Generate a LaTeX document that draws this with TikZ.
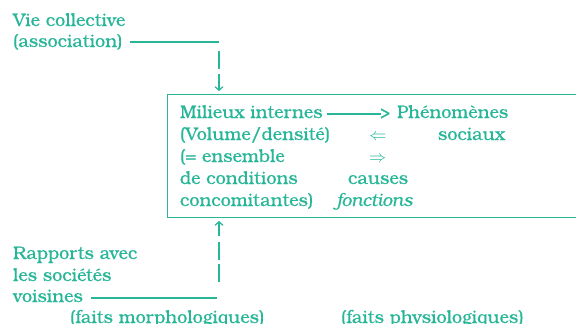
\documentclass[tikz,border=0pt]{standalone}
\usepackage{fontspec}
\setmainfont{TeX Gyre Bonum}[FakeBold=0.5]
\usetikzlibrary{arrows.meta}
\definecolor{teal1}{RGB}{40,182,152}
\tikzset{
  txt/.style={anchor=base west,inner sep=0pt,outer sep=0pt,text=teal1,font=\fontsize{18}{22}\selectfont},
  ln/.style={draw=teal1,line width=1.3pt},
  arr/.style={draw=teal1,line width=1.3pt,-{Straight Barb[length=3.5pt,width=8pt,line width=1.2pt]}}
}
\begin{document}
\begin{tikzpicture}[x=1pt,y=-1pt]
\useasboundingbox (0,0) rectangle (576,324);
\clip (0,0) rectangle (576,324);
% top left text
\node[txt] (vie) at (13,26) {Vie collective};
\node[txt] (assoc) at (13,47) {(association)};
\coordinate (a0) at (130,42);
\coordinate (a1) at (219,42);
\coordinate (a2) at (219,51);
\coordinate (a3) at (219,69);
\coordinate (a4) at (219,74);
\coordinate (a5) at (219,91);
\draw[ln] (a0) -- (a1);
\draw[ln] (a2) -- (a3);
\draw[arr] (a4) -- (a5);
% box
\node[draw=teal1,line width=1.3pt,inner sep=0pt,minimum width=430pt,minimum height=123pt,anchor=north west] (box) at (167,93.5) {};
% inside text
\node[txt] (mi) at (180,118) {Milieux internes};
\node[txt] (gt) at (380,118) {>};
\node[txt] (ph) at (397,118) {Phénomènes};
\coordinate (r0) at (327,114);
\coordinate (r1) at (381,114);
\draw[ln,line width=1.2pt] (r0) -- (r1);
\node[txt] (vol) at (180,140) {(Volume/densité)};
\node[txt] (la) at (369,140) {$\Leftarrow$};
\node[txt] (soc) at (438,140) {sociaux};
\node[txt] (ens) at (180,162) {(= ensemble};
\node[txt] (ra) at (369,162) {$\Rightarrow$};
\node[txt] (cond) at (180,184) {de conditions};
\node[txt] (cau) at (348,184) {causes};
\node[txt] (conc) at (180,206) {concomitantes)};
\node[txt,font=\fontsize{18}{22}\selectfont\itshape] (fon) at (336,206) {fonctions};
% bottom
\coordinate (b0) at (91,298);
\coordinate (b1) at (217,298);
\coordinate (b2) at (219,282);
\coordinate (b3) at (219,264);
\coordinate (b4) at (219,260);
\coordinate (b5) at (219,242);
\coordinate (b6) at (219,236);
\coordinate (b7) at (219,221);
\draw[ln] (b0) -- (b1);
\draw[ln] (b2) -- (b3);
\draw[ln] (b4) -- (b5);
\draw[arr] (b6) -- (b7);
\node[txt] (rap) at (13,259) {Rapports avec};
\node[txt] (les) at (13,281) {les sociétés};
\node[txt] (voi) at (13,302) {voisines};
\node[txt] (mor) at (70,323) {(faits morphologiques)};
\node[txt] (phy) at (341,323) {(faits physiologiques)};
\end{tikzpicture}
\end{document}
